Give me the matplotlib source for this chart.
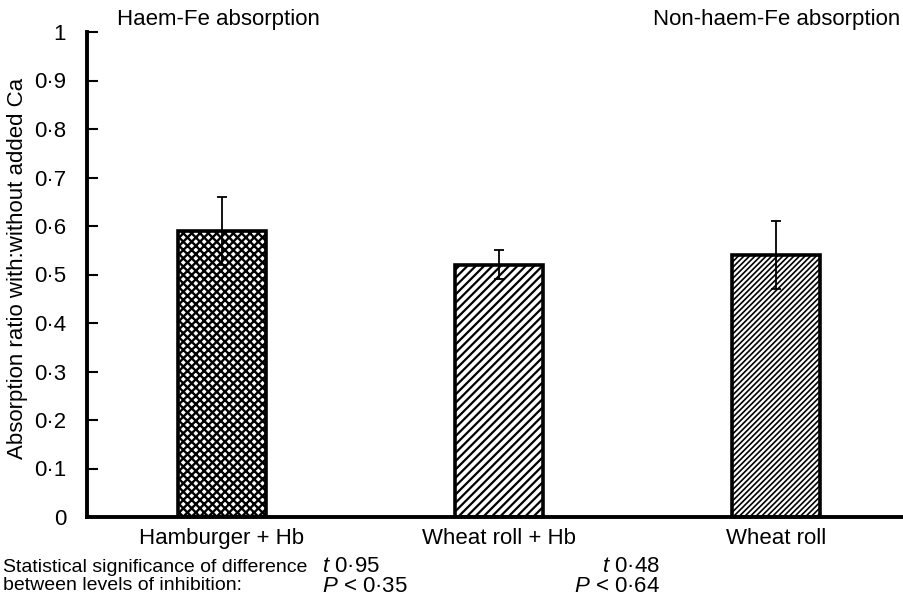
import numpy as np
import matplotlib
matplotlib.use("Agg")
import matplotlib.pyplot as plt

plt.rcParams['font.family'] = ['Liberation Sans', 'DejaVu Sans']
plt.rcParams['hatch.linewidth'] = 1.6
plt.rcParams['mathtext.fontset'] = 'custom'
plt.rcParams['mathtext.it'] = 'Liberation Sans:italic'
plt.rcParams['mathtext.rm'] = 'Liberation Sans'

# data
meals = ["Hamburger + Hb", "Wheat roll + Hb", "Wheat roll"]
ratio = [0.59, 0.52, 0.54]
err_low = [0.07, 0.03, 0.07]
err_high = [0.07, 0.03, 0.07]
hatches = ["xxxx", "////", "//////"]
hatch_lw = [1.7, 1.6, 1.2]
yticks = [0, 0.1, 0.2, 0.3, 0.4, 0.5, 0.6, 0.7, 0.8, 0.9, 1]
ytick_labels = ["0" if v == 0 else ("1" if v == 1 else f"{v:.1f}".replace(".", "\u00b7")) for v in yticks]

fs = 16

fig = plt.figure(figsize=(9.04, 6.04), dpi=100)
ax = fig.add_axes([87 / 904, 87 / 604, 1 - 87 / 904, (517 - 32) / 604])

x = np.arange(len(meals))
bars = ax.bar(x, ratio, width=0.32, color="white", edgecolor="black",
              linewidth=2.6, hatch=hatches, zorder=2)
for b, lw in zip(bars, hatch_lw):
    if hasattr(b, "set_hatch_linewidth"):
        b.set_hatch_linewidth(lw)
ax.errorbar(x, ratio, yerr=[err_low, err_high], fmt="none", ecolor="black",
            elinewidth=1.3, capsize=3.5, capthick=1.3, zorder=3)

ax.set_xlim(-0.487, 2.462)
ax.set_ylim(0, 1)
ax.set_xticks(x)
ax.set_xticklabels(meals, fontsize=fs)
ax.set_yticks(yticks)
ax.set_yticklabels(ytick_labels, fontsize=fs)
ax.tick_params(axis="y", direction="in", length=8, width=1.5, pad=15)
ax.tick_params(axis="x", length=0, pad=8)
for s in ["top", "right"]:
    ax.spines[s].set_visible(False)
ax.spines["left"].set_linewidth(2.8)
ax.spines["bottom"].set_linewidth(2.8)
ax.spines["left"].set_bounds(0, 1)

fig.text(18 / 904, 1 - 268 / 604, "Absorption ratio with:without added Ca", fontsize=fs,
         rotation=90, ha="center", va="center")

fig.text(117 / 904, 1 - 20 / 604, "Haem-Fe absorption", fontsize=fs, va="center", ha="left")
fig.text(900 / 904, 1 - 20 / 604, "Non-haem-Fe absorption", fontsize=fs, va="center", ha="right")

# statistics under the chart
fig.text(3 / 904, 1 - 567 / 604, "Statistical significance of difference", fontsize=14, ha="left", va="center")
fig.text(3 / 904, 1 - 586 / 604, "between levels of inhibition:", fontsize=14, ha="left", va="center")
fig.text(322 / 904, 1 - 567 / 604, r"$\it{t}$ 0·95", fontsize=fs, ha="left", va="center")
fig.text(322 / 904, 1 - 586 / 604, r"$\it{P}$ < 0·35", fontsize=fs, ha="left", va="center")
fig.text(660 / 904, 1 - 567 / 604, r"$\it{t}$ 0·48", fontsize=fs, ha="right", va="center")
fig.text(660 / 904, 1 - 586 / 604, r"$\it{P}$ < 0·64", fontsize=fs, ha="right", va="center")

fig.savefig("out.png", dpi=100)
